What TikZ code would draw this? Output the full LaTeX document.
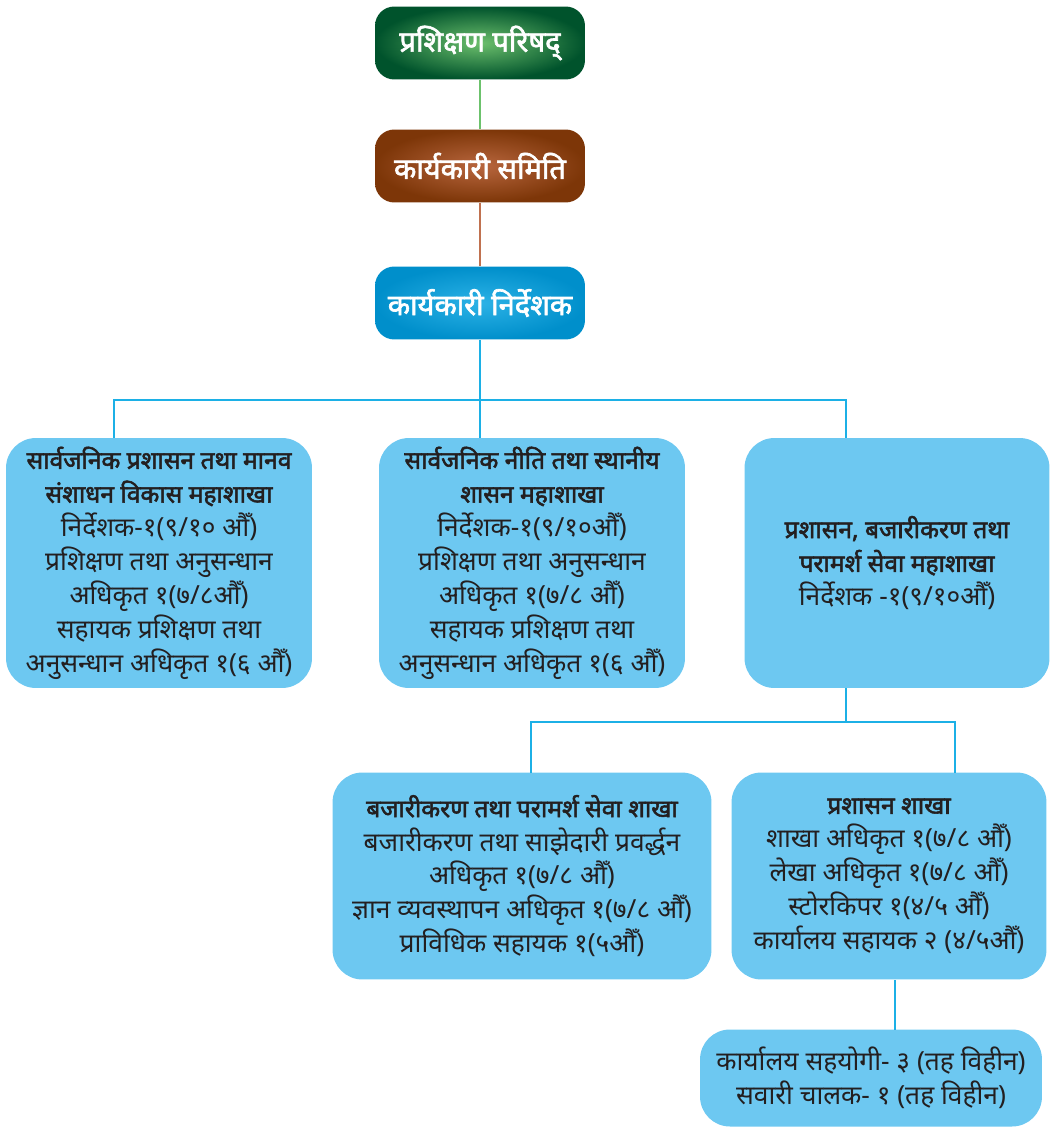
\documentclass[tikz,border=0pt]{standalone}
\usepackage{fontspec}
\setmainfont{Noto Sans}[Script=Devanagari, BoldFont={Noto Sans}, BoldFeatures={FakeBold=2.2}]
\usetikzlibrary{positioning}
\definecolor{councildark}{HTML}{00532C}
\definecolor{councillight}{HTML}{6CBF6C}
\definecolor{boarddark}{HTML}{7D3608}
\definecolor{boardlight}{HTML}{B8663E}
\definecolor{execdark}{HTML}{008FCB}
\definecolor{execlight}{HTML}{2CB2E6}
\definecolor{unitblue}{HTML}{6DC8F1}
\definecolor{linegreen}{HTML}{6CC26C}
\definecolor{linebrown}{HTML}{C0714F}
\definecolor{lineblue}{HTML}{1CB0E6}
\definecolor{ink}{HTML}{231F20}
\newcommand{\unittitle}[1]{{\bfseries\fontsize{14}{19.3}\selectfont #1}}

\begin{document}
\begin{tikzpicture}[x=0.02cm, y=-0.02cm,
    head/.style={shade, rounded corners=11pt, minimum width=4.2cm, minimum height=1.46cm,
      text=white, font=\bfseries\fontsize{16.5}{20}\selectfont},
    unit/.style={fill=unitblue, rounded corners=17pt, align=center, text=ink,
      inner sep=0pt, font=\fontsize{15}{19.3}\selectfont},
    link/.style={draw=lineblue, line width=1.6pt}]
    \useasboundingbox (0,0) rectangle (1053,1128);

    % top of the chart
    \node[head, inner color=councillight, outer color=councildark] (council) at (480,43) {प्रशिक्षण परिषद्};
    \node[head, inner color=boardlight, outer color=boarddark] (board) at (480,166) {कार्यकारी समिति};
    \node[head, inner color=execlight, outer color=execdark] (exec) at (480,303) {कार्यकारी निर्देशक};

    % divisions
    \node[unit, minimum width=6.12cm, minimum height=5cm] (hrd) at (159,563)
      {\unittitle{सार्वजनिक प्रशासन तथा मानव}\\ \unittitle{संशाधन विकास महाशाखा}\\ निर्देशक-१(९/१० औँ)\\ प्रशिक्षण तथा अनुसन्धान\\ अधिकृत १(७/८औँ)\\ सहायक प्रशिक्षण तथा\\ अनुसन्धान अधिकृत १(६ औँ)};
    \node[unit, minimum width=6.12cm, minimum height=5cm] (policy) at (532,563)
      {\unittitle{सार्वजनिक नीति तथा स्थानीय}\\ \unittitle{शासन महाशाखा}\\ निर्देशक-१(९/१०औँ)\\ प्रशिक्षण तथा अनुसन्धान\\ अधिकृत १(७/८ औँ)\\ सहायक प्रशिक्षण तथा\\ अनुसन्धान अधिकृत १(६ औँ)};
    \node[unit, minimum width=6.1cm, minimum height=5cm] (admin) at (897,563)
      {\unittitle{प्रशासन, बजारीकरण तथा}\\ \unittitle{परामर्श सेवा महाशाखा}\\ निर्देशक -१(९/१०औँ)};

    % sections
    \node[unit, minimum width=7.58cm, minimum height=4.14cm] (market) at (522,876)
      {\unittitle{बजारीकरण तथा परामर्श सेवा शाखा}\\ बजारीकरण तथा साझेदारी प्रवर्द्धन\\ अधिकृत १(७/८ औँ)\\ ज्ञान व्यवस्थापन अधिकृत १(७/८ औँ)\\ प्राविधिक सहायक १(५औँ)};
    \node[unit, minimum width=6.3cm, minimum height=4.14cm] (office) at (889,876)
      {\unittitle{प्रशासन शाखा}\\ शाखा अधिकृत १(७/८ औँ)\\ लेखा अधिकृत १(७/८ औँ)\\ स्टोरकिपर १(४/५ औँ)\\ कार्यालय सहायक २ (४/५औँ)};
    \node[unit, minimum width=6.84cm, minimum height=1.94cm] (support) at (871,1078)
      {कार्यालय सहयोगी- ३ (तह विहीन)\\ सवारी चालक- १ (तह विहीन)};

    % connectors
    \coordinate (split) at (480,400);
    \coordinate (hrdtop) at (114,438);
    \coordinate (admintop) at (846,438);
    \coordinate (adminfoot) at (846,688);
    \coordinate (subsplit) at (846,722);
    \coordinate (markettop) at (531,773);
    \coordinate (officetop) at (955,773);
    \coordinate (officefoot) at (895,980);
    \coordinate (supporttop) at (895,1030);

    \draw[draw=linegreen, line width=1.3pt] (council) -- (board);
    \draw[draw=linebrown, line width=1.3pt] (board) -- (exec);
    \draw[link] (exec) -- (split) -- (policy.north -| split);
    \draw[link] (hrdtop) |- (split) -| (admintop);
    \draw[link] (adminfoot) -- (subsplit);
    \draw[link] (markettop) |- (subsplit) -| (officetop);
    \draw[link] (officefoot) -- (supporttop);
\end{tikzpicture}
\end{document}
